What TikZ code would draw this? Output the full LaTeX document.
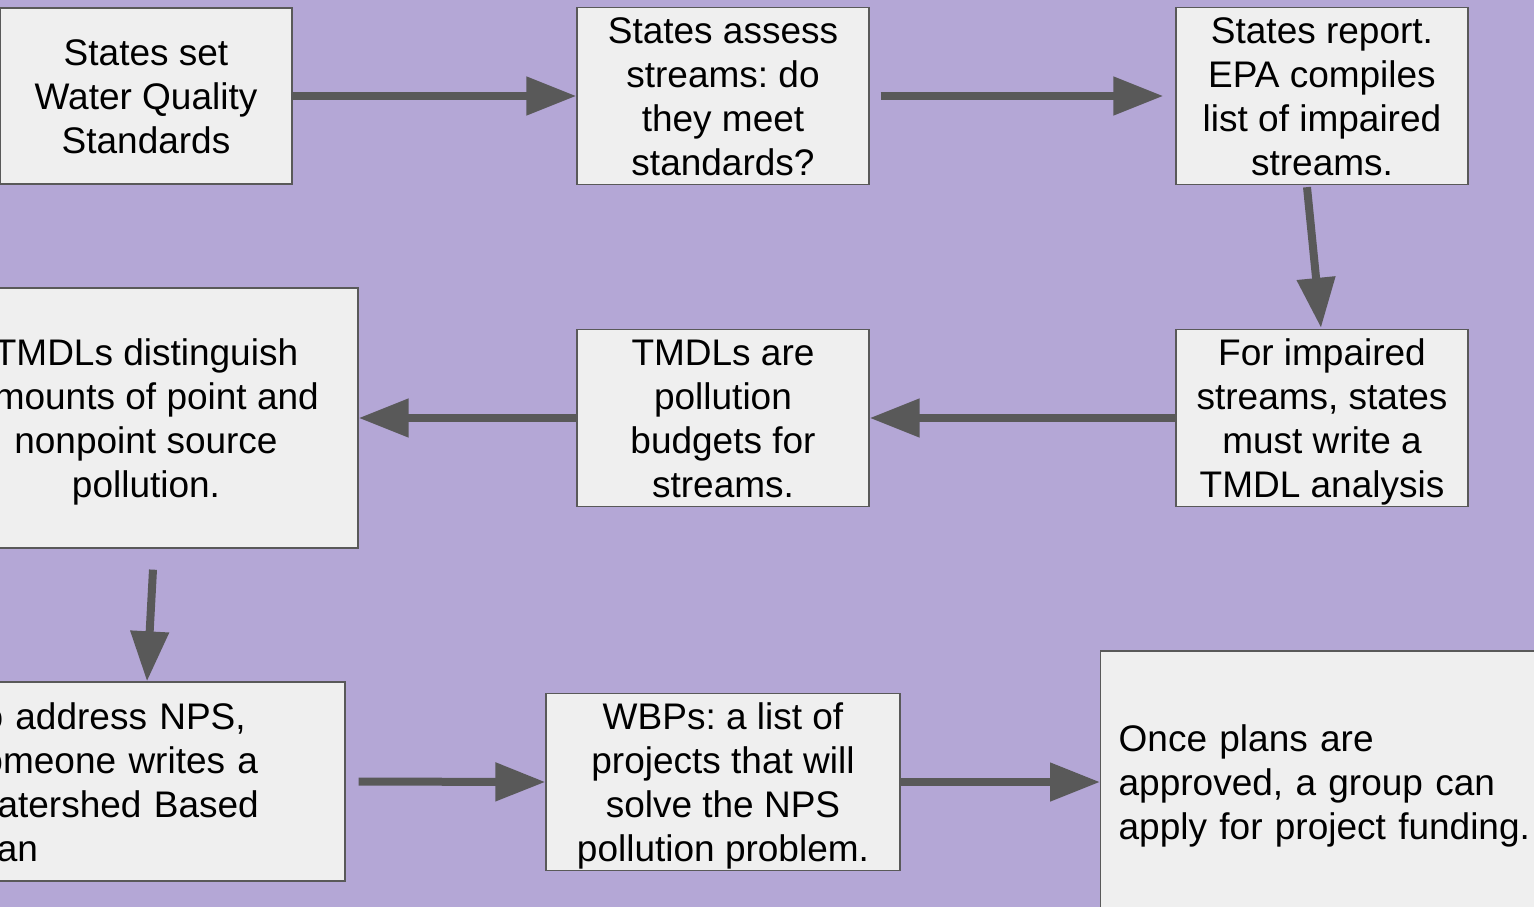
\documentclass[tikz,border=0pt]{standalone}
\usepackage{fontspec}
\setmainfont{Liberation Sans}
\usetikzlibrary{arrows.meta,calc}
\definecolor{bgpurple}{HTML}{B4A7D6}
\definecolor{boxfill}{HTML}{EFEFEF}
\definecolor{boxline}{HTML}{595959}
\definecolor{arrowgray}{HTML}{595959}
\newcommand\Tstr{\rule{0pt}{36pt}}
\newcommand\Bstr{\rule[-9pt]{0pt}{0pt}}
\begin{document}
\frenchspacing
\begin{tikzpicture}[x=1pt,y=-1pt,
  box/.style={draw=boxline, fill=boxfill, line width=1.3pt, rectangle, inner sep=0pt,
    font=\fontsize{37}{44}\selectfont\frenchspacing, align=center, text=black},
  leftbox/.style={box, align=left, inner ysep=0pt},
  arr/.style={draw=arrowgray, line width=8pt, -{Triangle[length=50pt,width=37pt]}}]
\useasboundingbox (0,0) rectangle (1534,907);
\fill[bgpurple] (0,0) rectangle (1534,907);
% row 1
\node[box, minimum width=292pt, minimum height=176pt] (A) at (146,96)
  {\Tstr States set\\Water Quality\\Standards\Bstr};
\node[box, minimum width=292pt, minimum height=176pt] (B) at (723,96)
  {\Tstr States assess\\streams: do\\they meet\\standards?\Bstr};
\node[box, minimum width=292pt, minimum height=176pt] (C) at (1322,96)
  {\Tstr States report.\\EPA compiles\\list of impaired\\streams.\Bstr};
% row 2
\node[box, minimum width=424pt, minimum height=260pt] (D) at (146,418)
  {\Tstr TMDLs distinguish\\amounts of point and\\nonpoint source\\pollution.\Bstr};
\node[box, minimum width=292pt, minimum height=176pt] (E) at (723,418)
  {\Tstr TMDLs are\\pollution\\budgets for\\streams.\Bstr};
\node[box, minimum width=292pt, minimum height=176pt] (F) at (1322,418)
  {\Tstr For impaired\\streams, states\\must write a\\TMDL analysis\Bstr};
% row 3
\node[leftbox, inner xsep=19pt, text width=362pt, minimum width=400pt, minimum height=199pt] (G) at (145,781.5)
  {\Tstr To address NPS,\\someone writes a\\Watershed Based\\Plan\Bstr};
\node[box, minimum width=354pt, minimum height=176pt] (I) at (723,782)
  {\Tstr WBPs: a list of\\projects that will\\solve the NPS\\pollution problem.\Bstr};
\node[leftbox, inner xsep=18pt, text width=440pt, minimum width=476pt, minimum height=262pt, anchor=west] (H) at (1100,782)
  {\Tstr Once plans are\\approved, a group can\\apply for project funding.\Bstr};
% connectors
\draw[arr] (A.east) -- (B.west);
\draw[arr, shorten <=11pt, shorten >=12pt] (B.east) -- (C.west);
\draw[arr] ($(C.south)+(-15,2)$) -- ($(F.north)+(-1,-1)$);
\draw[arr] (F.west) -- (E.east);
\draw[arr] (E.west) -- (D.east);
\draw[arr] ($(D.south)+(7,21)$) -- ($(G.north)+(2,0)$);
\draw[arr, shorten <=13pt] (G.east) -- (I.west);
\draw[arr] (I.east) -- (H.west);
\end{tikzpicture}
\end{document}
